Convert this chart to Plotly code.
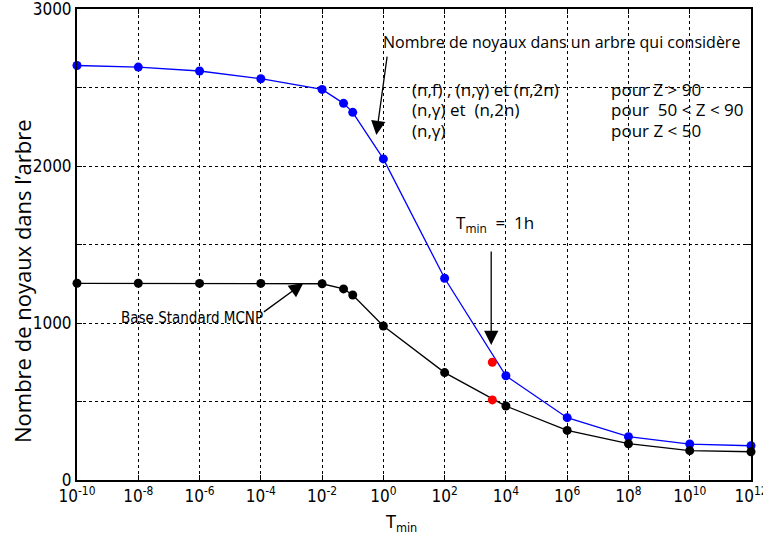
import plotly.graph_objects as go

# log10 of T_min (s) for each point
log_t = [-10, -8, -6, -4, -2, -1.3, -1.0, 0, 2, 4, 6, 8, 10, 12]
t_vals = [10 ** v for v in log_t]

# tree sizes
noyaux_complet = [2640, 2630, 2605, 2556, 2488, 2399, 2342, 2045, 1285, 664, 397, 276, 229, 218]
noyaux_mcnp = [1253, 1253, 1252, 1252, 1250, 1217, 1178, 981, 684, 471, 316, 231, 187, 180]

# T_min = 1h points (red)
t_heure = [3600, 3600]
noyaux_heure = [750, 510]

x_ticks = [10 ** k for k in range(-10, 13, 2)]
x_ticktext = ["10<sup>%d</sup>" % k for k in range(-10, 13, 2)]
y_ticks = [0, 500, 1000, 1500, 2000, 2500, 3000]
y_ticktext = ["0", "", "1000", "", "2000", "", "3000"]

FONT = "Open Sans, Liberation Sans, sans-serif"
NARROW = "Liberation Sans Narrow, DejaVu Sans Condensed, sans-serif"

fig = go.Figure()

fig.add_trace(go.Scatter(
    x=t_vals, y=noyaux_complet, mode="lines+markers",
    line=dict(color="#0000ff", width=1.3),
    marker=dict(color="#0000ff", size=9),
    cliponaxis=False, showlegend=False
))
fig.add_trace(go.Scatter(
    x=t_vals, y=noyaux_mcnp, mode="lines+markers",
    line=dict(color="black", width=1.3),
    marker=dict(color="black", size=9),
    cliponaxis=False, showlegend=False
))
fig.add_trace(go.Scatter(
    x=t_heure, y=noyaux_heure, mode="markers",
    marker=dict(color="#ff0000", size=9),
    cliponaxis=False, showlegend=False
))

annotations = [
    # arrows
    dict(x=-0.23, y=2197, ax=11, ay=-80, showarrow=True, arrowhead=2, arrowsize=2.2,
         arrowwidth=1.3, arrowcolor="black", text=""),
    dict(x=3.52, y=860, ax=0, ay=-95, showarrow=True, arrowhead=2, arrowsize=2.2,
         arrowwidth=1.3, arrowcolor="black", text=""),
    dict(x=-2.61, y=1255, ax=-41, ay=30, showarrow=True, arrowhead=2, arrowsize=2.2,
         arrowwidth=1.3, arrowcolor="black", text=""),
    # texts
    dict(x=5.82, y=2790, text="Nombre de noyaux dans un arbre qui considère",
         showarrow=False, font=dict(size=16)),
    dict(x=0.88, y=2490, text="(n,f) , (n,γ) et (n,2n)", xanchor="left",
         showarrow=False, font=dict(size=17)),
    dict(x=0.88, y=2357, text="(n,γ) et  (n,2n)", xanchor="left",
         showarrow=False, font=dict(size=17)),
    dict(x=0.88, y=2223, text="(n,γ)", xanchor="left",
         showarrow=False, font=dict(size=17)),
    dict(x=7.35, y=2490, text="pour Z > 90", xanchor="left",
         showarrow=False, font=dict(size=17)),
    dict(x=7.35, y=2357, text="pour  50 < Z < 90", xanchor="left",
         showarrow=False, font=dict(size=17)),
    dict(x=7.35, y=2223, text="pour Z < 50", xanchor="left",
         showarrow=False, font=dict(size=17)),
    dict(x=3.66, y=1631, text="T<sub>min</sub>  =  1h",
         showarrow=False, font=dict(size=17)),
    dict(x=-6.24, y=1032, text="Base Standard MCNP",
         showarrow=False, font=dict(size=15, family=NARROW)),
    # axis titles
    dict(x=0.48, y=-0.0914, xref="paper", yref="paper", text="T<sub>min</sub>",
         xanchor="center", yanchor="middle",
         showarrow=False, font=dict(size=18, family=NARROW)),
    dict(x=-0.0816, y=0.4225, xref="paper", yref="paper", textangle=-90,
         xanchor="center", yanchor="middle",
         text="Nombre de noyaux dans l’arbre",
         showarrow=False, font=dict(size=22)),
]

fig.update_layout(
    width=763, height=546,
    margin=dict(l=77, r=12, t=9, b=66),
    plot_bgcolor="white", paper_bgcolor="white",
    font=dict(family=FONT, color="black"),
    annotations=annotations,
)

fig.update_xaxes(
    type="log", range=[-10, 12], automargin=False,
    tickvals=x_ticks, ticktext=x_ticktext, ticklabeloverflow="allow",
    tickfont=dict(size=17, family=NARROW),
    ticks="inside", ticklen=5, tickcolor="black",
    showline=True, linecolor="black", linewidth=2, mirror="ticks",
    showgrid=True, gridcolor="black", gridwidth=1, griddash="dot",
    zeroline=False,
)
fig.update_yaxes(
    range=[0, 3000], automargin=False,
    tickvals=y_ticks, ticktext=y_ticktext, ticklabeloverflow="allow",
    tickfont=dict(size=17, family=NARROW),
    ticks="inside", ticklen=5, tickcolor="black",
    showline=True, linecolor="black", linewidth=2, mirror="ticks",
    showgrid=True, gridcolor="black", gridwidth=1, griddash="dot",
    zeroline=False,
)

# drop the default body margin so the figure fills the window
fig.write_html("out.html", config={"displayModeBar": False},
               post_script="document.body.style.margin='0';")
